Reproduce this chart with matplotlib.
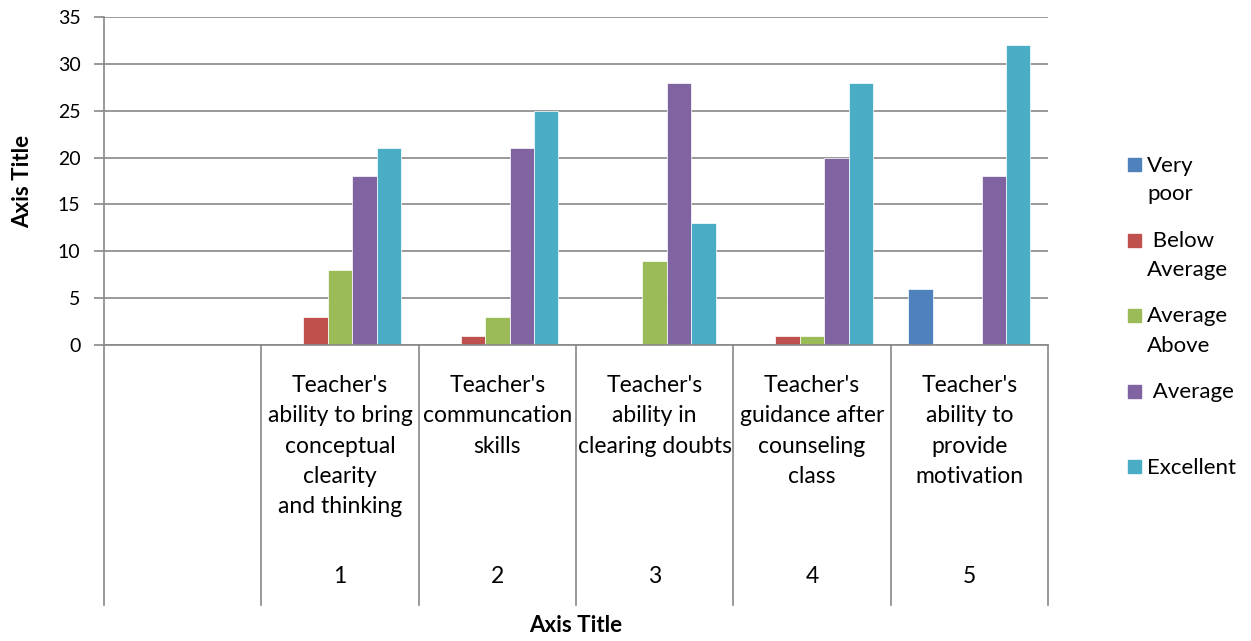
import matplotlib
matplotlib.use("Agg")
import matplotlib.pyplot as plt
import matplotlib.transforms as mtransforms
from matplotlib.patches import Rectangle

plt.rcParams["font.family"] = ["Lato", "DejaVu Sans"]

# data
categories = [
    "",
    "Teacher's\nability to bring\nconceptual\nclearity\nand thinking",
    "Teacher's\ncommuncation\nskills",
    "Teacher's\nability in\nclearing doubts",
    "Teacher's\nguidance after\ncounseling\nclass",
    "Teacher's\nability to\nprovide\nmotivation",
]
groups = ["", "1", "2", "3", "4", "5"]

very_poor = [0, 0, 0, 0, 0, 6]
below_average = [0, 3, 1, 0, 1, 0]
average = [0, 8, 3, 9, 1, 0]
above_average = [0, 18, 21, 28, 20, 18]
excellent = [0, 21, 25, 13, 28, 32]

series = [very_poor, below_average, average, above_average, excellent]
legend_labels = ["Very\npoor", " Below\nAverage", "Average\nAbove", " Average", "Excellent"]
colors = ["#4F81BD", "#C0504D", "#9BBB59", "#8064A2", "#4BACC6"]

W, H = 1251, 641
def fx(p):
    return p / W
def fy(p):
    return 1 - p / H

fig = plt.figure(figsize=(W / 100, H / 100), dpi=100)
ax = fig.add_axes([fx(104), fy(345), (1048 - 104) / W, (345 - 17) / H])

grid_col = "#888888"
bw = 0.155
x = list(range(len(categories)))
for i, vals in enumerate(series):
    pos = [xi + (i - 2) * bw for xi in x]
    ax.bar(pos, vals, width=bw, color=colors[i], edgecolor="white", linewidth=0.5)

ax.set_xlim(-0.5, len(categories) - 0.5)
ax.set_ylim(0, 35)
ax.set_yticks(range(0, 36, 5))
ax.set_xticks([])
ax.set_axisbelow(True)
ax.yaxis.grid(True, color=grid_col, linewidth=1.2)
for s in ["top", "right"]:
    ax.spines[s].set_visible(False)
for s in ["left", "bottom"]:
    ax.spines[s].set_color(grid_col)
    ax.spines[s].set_linewidth(1.2)
ax.tick_params(axis="y", length=7, width=1.2, color=grid_col, pad=10, labelsize=14)

# category separators below the axis
tr = mtransforms.blended_transform_factory(ax.transData, ax.transAxes)
for b in [xi - 0.5 for xi in x] + [x[-1] + 0.5]:
    ax.plot([b, b], [0, -(605 - 345) / (345 - 17)], color=grid_col, linewidth=1.2,
            transform=tr, clip_on=False)

# two-level category labels
tl = mtransforms.blended_transform_factory(ax.transData, fig.transFigure)
for xi, lab, grp in zip(x, categories, groups):
    if lab:
        for k, line in enumerate(lab.split("\n")):
            ax.text(xi, fy(392 + k * 30.3), line, transform=tl, ha="center",
                    va="baseline", fontsize=16.5)
    if grp:
        ax.text(xi, fy(583), grp, transform=tl, ha="center", va="baseline", fontsize=16.5)

fig.text(fx(576), fy(625), "Axis Title", ha="center", va="center",
         fontsize=16, fontweight="bold")
fig.text(fx(23), fy(181), "Axis Title", ha="center", va="center", rotation=90,
         fontsize=16, fontweight="bold")

# legend
for i, lab in enumerate(legend_labels):
    cy = 164.5 + i * 75.5
    fig.add_artist(Rectangle((fx(1128), fy(cy + 6.5)), 13 / W, 13 / H,
                             transform=fig.transFigure, color=colors[i]))
    for k, line in enumerate(lab.split("\n")):
        fig.text(fx(1147), fy(cy + 7 + k * 29), line, ha="left", va="baseline",
                 fontsize=16)

fig.savefig("out.png", dpi=100)
